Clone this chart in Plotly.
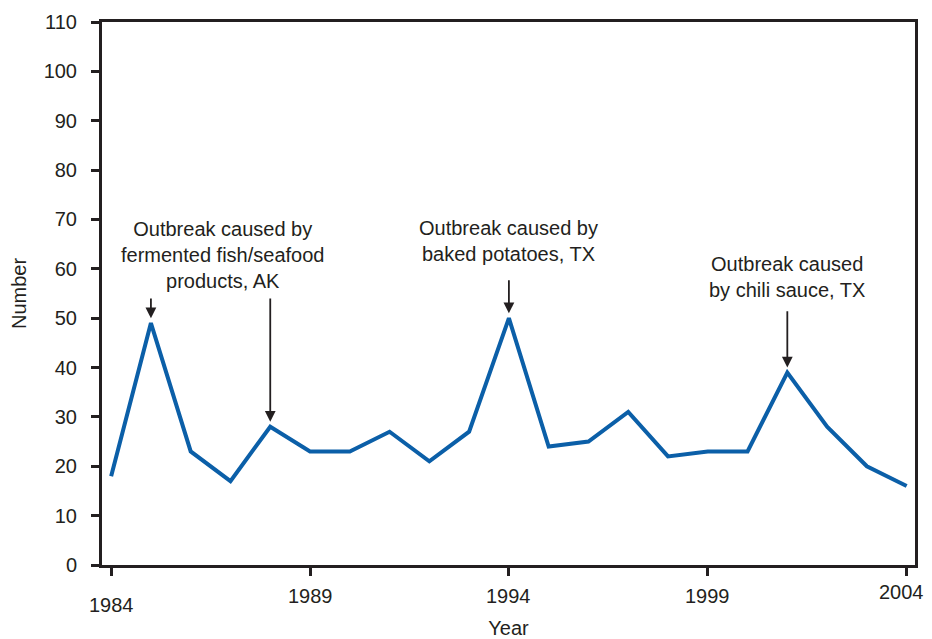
import plotly.graph_objects as go

# Data
years = list(range(1984, 2005))
counts = [18, 49, 23, 17, 28, 23, 23, 27, 21, 27, 50, 24, 25, 31, 22, 23, 23, 39, 28, 20, 16]

tick_years = [1984, 1989, 1994, 1999, 2004]
tick_shift = [-40, -31, -31, -31, -27]  # staggered labels as in the original

notes = [
    "Outbreak caused by<br>fermented fish/seafood<br>products, AK",
    "Outbreak caused by<br>baked potatoes, TX",
    "Outbreak caused<br>by chili sauce, TX",
]
note_x = [1986.8, 1994.0, 2001.0]
note_y = [55.0, 60.4, 53.1]

arrow_years = [1985, 1988, 1994, 2001]
arrow_tail = [54.3, 54.3, 58.0, 51.7]

FONT = "Liberation Sans, Arial, sans-serif"
INK = "#231f20"
BLUE = "#0b5fa8"

fig = go.Figure()
fig.add_trace(go.Scatter(
    x=years, y=counts, mode="lines",
    line=dict(color=BLUE, width=4),
    hoverinfo="x+y",
))

annotations = []
for txt, x, y in zip(notes, note_x, note_y):
    annotations.append(dict(
        x=x, y=y, xref="x", yref="y", text=txt, showarrow=False,
        xanchor="center", yanchor="bottom",
        font=dict(size=20, color=INK, family=FONT),
    ))

for yr, tail in zip(arrow_years, arrow_tail):
    tip = counts[years.index(yr)] + 1.0
    annotations.append(dict(
        x=yr, y=tip, ax=yr, ay=tail, xref="x", yref="y", axref="x", ayref="y",
        text="", showarrow=True, arrowhead=2, arrowsize=1.2, arrowwidth=1.8,
        arrowcolor=INK, standoff=0,
    ))

for yr, sh in zip(tick_years, tick_shift):
    annotations.append(dict(
        x=yr, y=0, xref="x", yref="paper", text=str(yr), showarrow=False,
        xanchor="center", yanchor="middle", yshift=sh,
        xshift=-5 if yr == tick_years[-1] else 0,  # keep last label inside the page
        font=dict(size=20, color=INK, family=FONT),
    ))

# page body has an 8px margin, so the figure is a bit smaller than the window
fig.update_layout(
    width=924, height=631,
    margin=dict(l=94, r=17, t=14, b=74),
    paper_bgcolor="white", plot_bgcolor="white",
    showlegend=False,
    font=dict(family=FONT, size=20, color=INK),
    annotations=annotations,
    xaxis=dict(
        range=[1983.77, 2004.21], automargin=False,
        tickvals=tick_years, showticklabels=False,
        ticks="outside", ticklen=8, tickwidth=3, tickcolor=INK,
        showline=True, linewidth=3, linecolor=INK, mirror=True,
        showgrid=False, zeroline=False,
        title=dict(text="Year", font=dict(size=20), standoff=47),
    ),
    yaxis=dict(
        range=[0, 110], dtick=10, automargin=False,
        ticks="outside", ticklen=8, tickwidth=3, tickcolor=INK,
        ticklabelstandoff=10,
        showline=True, linewidth=3, linecolor=INK, mirror=True,
        showgrid=False, zeroline=False,
        tickfont=dict(size=20),
        title=dict(text="Number", font=dict(size=20), standoff=14),
    ),
)

fig.write_html("out.html")
